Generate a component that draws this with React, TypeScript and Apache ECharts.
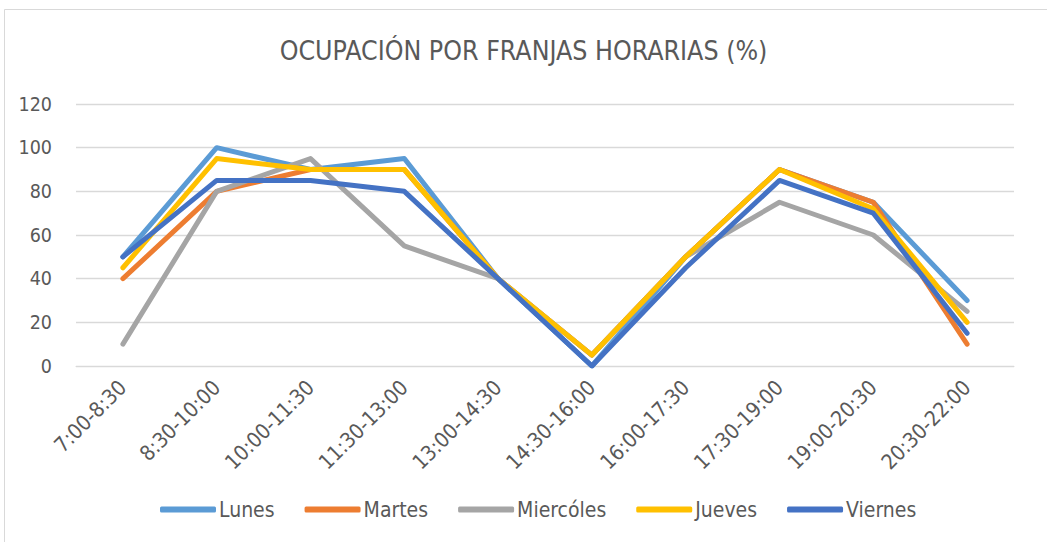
import React, { useEffect, useRef } from "react";
import * as echarts from "echarts";

const categories = ["7:00-8:30", "8:30-10:00", "10:00-11:30", "11:30-13:00", "13:00-14:30", "14:30-16:00", "16:00-17:30", "17:30-19:00", "19:00-20:30", "20:30-22:00"];
const lunes = [50, 100, 90, 95, 40, 0, 50, 90, 75, 30];
const martes = [40, 80, 90, 90, 40, 5, 50, 90, 75, 10];
const miercoles = [10, 80, 95, 55, 40, 5, 50, 75, 60, 25];
const jueves = [45, 95, 90, 90, 40, 5, 50, 90, 72, 20];
const viernes = [50, 85, 85, 80, 40, 0, 45, 85, 70, 15];
const yTicks = [0, 20, 40, 60, 80, 100, 120];

const seriesDefs = [
  { name: "Lunes", data: lunes, color: "#5B9BD5" },
  { name: "Martes", data: martes, color: "#ED7D31" },
  { name: "Miercóles", data: miercoles, color: "#A5A5A5" },
  { name: "Jueves", data: jueves, color: "#FFC000" },
  { name: "Viernes", data: viernes, color: "#4472C4" },
];

const FONT = "'DejaVu Sans Condensed', 'Open Sans', sans-serif";

export default function App() {
  const ref = useRef<HTMLDivElement>(null);
  useEffect(() => {
    const chart = echarts.init(ref.current!, null, { renderer: "svg" });
    chart.setOption({
      animation: false,
      backgroundColor: "#ffffff",
      title: {
        text: "OCUPACIÓN POR FRANJAS HORARIAS (%)",
        left: "center",
        top: 32,
        textStyle: { fontFamily: FONT, fontSize: 26.5, fontWeight: "normal", color: "#595959" },
      },
      graphic: [
        {
          type: "rect",
          shape: { x: 4.5, y: 9.5, width: 1060, height: 540 },
          style: { fill: "none", stroke: "#d9d9d9", lineWidth: 1 },
          silent: true,
        },
      ],
      grid: { left: 76, right: 33, top: 104, bottom: 176 },
      legend: {
        bottom: 17,
        left: 155,
        itemWidth: 56,
        itemHeight: 6,
        itemGap: 30,
        icon: "roundRect",
        textStyle: { fontFamily: FONT, fontSize: 21, color: "#595959", padding: [0, 0, 0, -2] },
        data: seriesDefs.map((s) => s.name),
      },
      xAxis: {
        type: "category",
        data: categories,
        boundaryGap: true,
        axisLine: { lineStyle: { color: "#d9d9d9", width: 1 } },
        axisTick: { show: false },
        axisLabel: { rotate: 45, fontFamily: FONT, fontSize: 21, color: "#595959", margin: 18, interval: 0 },
      },
      yAxis: {
        type: "value",
        min: 0,
        max: 120,
        interval: 20,
        axisLine: { show: false },
        axisTick: { show: false },
        splitLine: { lineStyle: { color: "#d9d9d9", width: 1.3 } },
        axisLabel: { fontFamily: FONT, fontSize: 19.5, color: "#595959", margin: 24,
          formatter: (v: number) => (yTicks.includes(v) ? String(v) : "") },
      },
      series: seriesDefs.map((s) => ({
        name: s.name,
        type: "line",
        data: s.data,
        symbol: "none",
        color: s.color,
        lineStyle: { color: s.color, width: 5, cap: "round", join: "round" },
      })),
    });
    return () => chart.dispose();
  }, []);
  return <div ref={ref} style={{ position: "absolute", left: 0, top: 0, width: 1047, height: 542 }} />;
}
